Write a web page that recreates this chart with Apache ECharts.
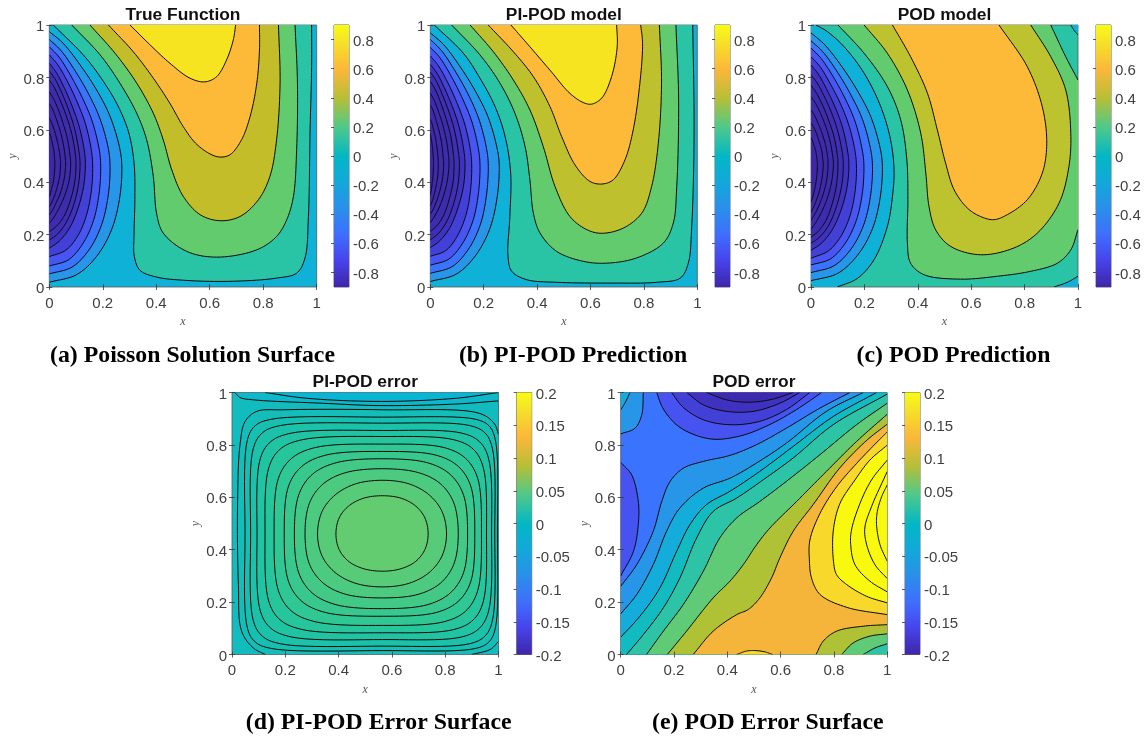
<!DOCTYPE html>
<html><head><meta charset="utf-8">
<style>html,body{margin:0;padding:0;background:#fff}#c{width:1144px;height:737px}</style>
<script src="https://cdn.jsdelivr.net/npm/echarts@6/dist/echarts.min.js"></script>
</head><body><div id="c"></div>
<script>
// ---------- tick labels ----------
const xyTicks=[0,0.2,0.4,0.6,0.8,1];
const cbTicksPred=[-0.8,-0.6,-0.4,-0.2,0,0.2,0.4,0.6,0.8];
const cbTicksErr=[-0.2,-0.15,-0.1,-0.05,0,0.05,0.1,0.15,0.2];
const titles=["True Function","PI-POD model","POD model","PI-POD error","POD error"];
const captions=["(a) Poisson Solution Surface","(b) PI-POD Prediction","(c) POD Prediction","(d) PI-POD Error Surface","(e) POD Error Surface"];

// ---------- panel (a) contour lines, read in x,y data units ----------
const aA1=[[0,.018],[.102,.047],[.177,.117],[.233,.219],[.264,.346],[.271,.47],[.262,.536],[.227,.652],[.177,.752],[.115,.848],[.052,.93],[0,.975]];
const aA2=[[0,.05],[.085,.076],[.148,.141],[.195,.236],[.221,.354],[.227,.47],[.22,.532],[.19,.641],[.148,.735],[.096,.826],[.044,.902],[0,.945]];
const aA3=[[0,.08],[.072,.104],[.125,.165],[.165,.253],[.187,.363],[.192,.47],[.186,.529],[.161,.631],[.125,.719],[.081,.805],[.037,.877],[0,.917]];
const aA4=[[0,.116],[.061,.14],[.106,.194],[.139,.274],[.158,.373],[.162,.47],[.157,.524],[.136,.62],[.106,.702],[.069,.782],[.031,.849],[0,.886]];
const aA5=[[0,.148],[.036,.174],[.074,.222],[.105,.293],[.128,.383],[.135,.47],[.131,.52],[.113,.608],[.088,.684],[.057,.758],[.026,.819],[0,.854]];
const aA6=[[0,.179],[.031,.202],[.063,.246],[.09,.31],[.109,.391],[.115,.47],[.111,.516],[.096,.598],[.075,.668],[.049,.736],[.022,.793],[0,.825]];
const aA7=[[0,.211],[.027,.232],[.055,.27],[.078,.328],[.095,.4],[.1,.47],[.097,.512],[.084,.585],[.065,.649],[.042,.71],[.019,.761],[0,.79]];
const aA8=[[0,.243],[.015,.263],[.036,.3],[.056,.345],[.074,.406],[.08,.47],[.077,.506],[.067,.569],[.052,.623],[.034,.676],[.015,.72],[0,.745]];
const aA9=[[0,.275],[.012,.293],[.027,.324],[.043,.363],[.056,.415],[.061,.47],[.059,.5],[.051,.553],[.04,.598],[.026,.642],[.012,.679],[0,.70]];
const aA10=[[0,.306],[.008,.321],[.019,.347],[.029,.38],[.039,.424],[.042,.47],[.041,.493],[.035,.533],[.027,.568],[.018,.601],[.008,.629],[0,.645]];
const aA11=[[0,.345],[.004,.356],[.009,.376],[.015,.401],[.019,.435],[.021,.47],[.02,.486],[.018,.513],[.014,.537],[.009,.56],[.004,.579],[0,.59]];
const aL1=[[.015,1],[.127,.886],[.19,.803],[.252,.701],[.296,.593],[.317,.473],[.32,.333],[.317,.206],[.318,.117],[.339,.064],[.401,.038],[.514,.025],[.688,.022],[.85,.034],[.925,.053],[.956,.11],[.969,.269],[.975,.587],[.981,.841],[.981,1]];
const aL2=[[.084,1],[.19,.886],[.264,.778],[.327,.663],[.364,.562],[.389,.422],[.401,.282],[.426,.206],[.514,.136],[.626,.114],[.776,.142],[.85,.193],[.888,.257],[.913,.346],[.925,.524],[.928,.778],[.919,1]];
const aL3=[[.152,1],[.246,.892],[.327,.778],[.389,.663],[.426,.562],[.458,.447],[.501,.346],[.564,.276],[.638,.253],[.713,.269],[.782,.333],[.825,.422],[.85,.562],[.863,.778],[.857,1]];
const aL4=[[.221,1],[.314,.898],[.389,.797],[.451,.701],[.501,.612],[.547,.549],[.601,.508],[.638,.496],[.676,.505],[.719,.562],[.751,.651],[.776,.778],[.786,.905],[.786,1]];
const aL5=[[.302,1],[.377,.924],[.451,.854],[.526,.797],[.582,.783],[.626,.803],[.663,.867],[.688,.943],[.697,1]];

// ---------- panel (b) ----------
const bA1=[[0,.021],[.097,.049],[.168,.118],[.222,.22],[.251,.347],[.258,.47],[.249,.535],[.216,.65],[.168,.749],[.109,.845],[.05,.925],[0,.97]];
const bA2=[[0,.052],[.082,.078],[.142,.143],[.187,.237],[.211,.355],[.217,.47],[.21,.532],[.182,.641],[.142,.735],[.092,.826],[.042,.902],[0,.945]];
const bA3=[[0,.083],[.07,.107],[.121,.167],[.16,.254],[.181,.364],[.186,.47],[.18,.528],[.156,.63],[.121,.718],[.079,.803],[.036,.875],[0,.915]];
const bA4=[[0,.117],[.058,.139],[.101,.194],[.133,.273],[.151,.373],[.155,.47],[.15,.524],[.13,.618],[.101,.7],[.066,.779],[.03,.845],[0,.882]];
const bA5=[[0,.15],[.035,.176],[.072,.224],[.101,.294],[.124,.384],[.13,.47],[.126,.519],[.109,.607],[.085,.682],[.055,.755],[.025,.816],[0,.85]];
const bA6=[[0,.18],[.029,.203],[.06,.247],[.085,.31],[.104,.392],[.109,.47],[.105,.516],[.091,.596],[.071,.665],[.046,.732],[.021,.789],[0,.82]];
const bA7=[[0,.212],[.024,.233],[.049,.271],[.069,.328],[.085,.4],[.089,.47],[.086,.511],[.075,.583],[.058,.646],[.038,.706],[.017,.757],[0,.785]];
const bA8=[[0,.245],[.013,.265],[.032,.301],[.049,.346],[.064,.407],[.07,.47],[.068,.505],[.059,.567],[.046,.621],[.03,.672],[.013,.716],[0,.74]];
const bA9=[[0,.278],[.01,.295],[.023,.326],[.035,.364],[.046,.416],[.05,.47],[.048,.499],[.042,.551],[.033,.596],[.021,.639],[.01,.675],[0,.695]];
const bA10=[[0,.31],[.006,.324],[.014,.35],[.021,.382],[.028,.425],[.03,.47],[.029,.492],[.025,.531],[.02,.565],[.013,.597],[.006,.625],[0,.64]];
const bA11=[[0,.35],[.002,.361],[.005,.38],[.008,.404],[.011,.436],[.012,.47],[.012,.485],[.01,.511],[.008,.534],[.005,.556],[.002,.575],[0,.585]];
const bL1=[[.015,1],[.124,.892],[.186,.797],[.242,.69],[.28,.575],[.301,.435],[.298,.27],[.291,.117],[.305,.06],[.361,.028],[.473,.018],[.685,.015],[.848,.018],[.936,.034],[.966,.09],[.979,.23],[.988,.587],[.983,1]];
const bL2=[[.08,1],[.186,.886],[.261,.778],[.317,.663],[.355,.536],[.373,.409],[.386,.282],[.411,.206],[.473,.136],[.573,.098],[.66,.091],[.773,.111],[.873,.168],[.91,.244],[.923,.383],[.93,.714],[.92,1]];
const bL3=[[.149,1],[.236,.898],[.311,.79],[.373,.676],[.423,.536],[.467,.384],[.523,.269],[.586,.219],[.642,.205],[.723,.225],[.792,.282],[.829,.384],[.854,.549],[.866,.778],[.858,1]];
const bL4=[[.217,1],[.311,.898],[.386,.803],[.448,.689],[.492,.574],[.542,.466],[.598,.403],[.642,.393],[.685,.409],[.729,.485],[.76,.6],[.785,.778],[.795,.93],[.788,1]];
const bL5=[[.302,1],[.373,.917],[.448,.828],[.523,.739],[.573,.704],[.604,.698],[.642,.721],[.679,.803],[.7,.917],[.698,1]];

// ---------- panel (c) ----------
const cC0=[[.099,0],[.174,.033],[.236,.104],[.286,.231],[.305,.345],[.311,.447],[.298,.562],[.261,.689],[.199,.816],[.124,.917],[.061,.975],[.019,1]];
const cA1=[[0,.024],[.1,.052],[.174,.121],[.23,.222],[.26,.347],[.267,.47],[.258,.535],[.224,.65],[.174,.749],[.113,.845],[.051,.925],[0,.97]];
const cA2=[[0,.055],[.086,.081],[.15,.145],[.198,.239],[.224,.356],[.23,.47],[.222,.532],[.193,.639],[.15,.732],[.098,.822],[.044,.898],[0,.94]];
const cA3=[[0,.084],[.074,.108],[.129,.168],[.17,.255],[.193,.364],[.198,.47],[.191,.528],[.166,.629],[.129,.717],[.084,.801],[.038,.872],[0,.912]];
const cA4=[[0,.11],[.064,.137],[.111,.192],[.146,.272],[.166,.372],[.17,.47],[.164,.524],[.142,.617],[.111,.698],[.072,.776],[.033,.842],[0,.879]];
const cA5=[[0,.14],[.038,.166],[.078,.216],[.111,.289],[.135,.381],[.142,.47],[.137,.519],[.119,.606],[.093,.68],[.06,.752],[.027,.813],[0,.847]];
const cA6=[[0,.167],[.033,.191],[.067,.237],[.094,.303],[.115,.388],[.121,.47],[.117,.514],[.101,.592],[.079,.66],[.051,.725],[.023,.779],[0,.81]];
const cA7=[[0,.19],[.027,.212],[.056,.254],[.079,.316],[.096,.394],[.101,.47],[.098,.509],[.085,.578],[.066,.637],[.043,.695],[.019,.743],[0,.77]];
const cA8=[[0,.22],[.016,.243],[.038,.283],[.059,.333],[.077,.4],[.084,.47],[.081,.503],[.07,.562],[.055,.613],[.036,.662],[.016,.703],[0,.726]];
const cA9=[[0,.255],[.012,.274],[.029,.309],[.045,.352],[.059,.41],[.064,.47],[.062,.497],[.054,.544],[.042,.585],[.027,.624],[.012,.657],[0,.676]];
const cA10=[[0,.287],[.009,.303],[.021,.333],[.032,.369],[.042,.419],[.046,.47],[.044,.49],[.039,.526],[.03,.557],[.02,.587],[.009,.612],[0,.626]];
const cA11=[[0,.325],[.005,.338],[.011,.361],[.017,.39],[.022,.429],[.024,.47],[.023,.483],[.02,.506],[.016,.526],[.01,.545],[.005,.561],[0,.57]];
const cT1=[[.101,1],[.199,.892],[.286,.765],[.336,.638],[.359,.485],[.363,.333],[.361,.168],[.373,.091],[.423,.047],[.56,.03],[.698,.041],[.823,.06],[.923,.091],[.973,.142],[1,.219]];
const cT2=[[1,.79],[.954,.879],[.898,1]];
const cO=[[.199,1],[.286,.892],[.361,.752],[.411,.587],[.43,.435],[.442,.307],[.467,.218],[.523,.155],[.635,.123],[.76,.149],[.848,.206],[.929,.32],[.966,.46],[.973,.587],[.954,.752],[.898,.879],[.823,1]];
const cM=[[.305,1],[.373,.879],[.436,.74],[.473,.6],[.504,.473],[.536,.371],[.586,.301],[.635,.269],[.685,.257],[.735,.276],[.81,.333],[.866,.434],[.883,.549],[.866,.689],[.81,.841],[.704,1]];
const cBR=[[.91,0],[.96,.018],[1,.041]];
const cTR=[[.973,1],[.985,.98],[1,.962]];

// ---------- panel (d) ----------
const dL1=[[.39,.46],[.402,.521],[.437,.566],[.492,.596],[.565,.606],[.636,.596],[.69,.566],[.724,.521],[.736,.46],[.724,.401],[.69,.356],[.636,.328],[.565,.318],[.492,.328],[.437,.356],[.402,.401]];
const dL2=[[.321,.46],[.338,.546],[.387,.609],[.463,.651],[.565,.665],[.665,.651],[.74,.609],[.788,.546],[.805,.46],[.788,.376],[.74,.313],[.665,.272],[.565,.258],[.463,.272],[.387,.313],[.338,.376]];
const dL3=[[.274,.46],[.291,.579],[.342,.651],[.426,.694],[.565,.709],[.7,.694],[.783,.651],[.832,.579],[.849,.46],[.832,.344],[.783,.273],[.7,.23],[.565,.216],[.426,.23],[.342,.273],[.291,.344]];
const dL4=[[.234,.46],[.251,.611],[.302,.688],[.391,.732],[.565,.747],[.733,.732],[.818,.688],[.868,.611],[.884,.46],[.868,.31],[.818,.234],[.733,.19],[.565,.175],[.391,.19],[.302,.234],[.251,.31]];
const dL5=[[.196,.46],[.212,.642],[.262,.718],[.352,.761],[.565,.775],[.765,.761],[.849,.718],[.896,.642],[.911,.46],[.896,.279],[.849,.203],[.765,.16],[.565,.146],[.352,.16],[.262,.203],[.212,.279]];
const dL6=[[.158,.46],[.174,.672],[.223,.748],[.313,.79],[.565,.803],[.795,.79],[.877,.748],[.922,.672],[.936,.46],[.922,.244],[.877,.166],[.795,.125],[.565,.111],[.313,.125],[.223,.166],[.174,.244]];
const dL7=[[.124,.46],[.138,.713],[.181,.784],[.265,.82],[.565,.832],[.831,.82],[.905,.784],[.943,.713],[.955,.46],[.943,.203],[.905,.132],[.831,.095],[.565,.083],[.265,.095],[.181,.132],[.138,.203]];
const dL8=[[.094,.46],[.106,.747],[.145,.812],[.223,.845],[.565,.855],[.862,.845],[.929,.812],[.963,.747],[.974,.46],[.963,.167],[.929,.101],[.862,.067],[.565,.057],[.223,.067],[.145,.101],[.106,.167]];
const dL9=[[.07,.46],[.08,.787],[.114,.846],[.182,.874],[.565,.883],[.891,.874],[.949,.846],[.977,.787],[.986,.46],[.977,.129],[.949,.07],[.891,.041],[.565,.032],[.182,.041],[.114,.07],[.08,.129]];
const dL10=[[.049,.46],[.058,.82],[.087,.873],[.148,.898],[.565,.906],[.913,.898],[.964,.873],[.988,.82],[.996,.46],[.988,.1],[.964,.048],[.913,.023],[.565,.015],[.148,.023],[.087,.048],[.058,.1]];
const dL11a=[[.125,0],[.08,.025],[.036,.089],[.024,.267],[.021,.585],[.03,.8],[.049,.889],[.093,.928],[.193,.934],[.565,.934],[.93,.92],[.985,.88],[1,.84]];
const dL11b=[[1,.05],[.97,.02],[.9,0]];
const dT1=[[.011,1],[.03,.981],[.08,.972],[.34,.959],[.555,.95],[.84,.956],[1,.968]];
const dT2=[[.124,1],[.28,.978],[.561,.966],[.84,.978],[1,1]];

// ---------- panel (e) ----------
const eCornerA=[[.085,1],[.079,.915],[.054,.864],[0,.842]];
const eCornerB=[[.035,1],[.016,.96],[0,.934]];
const eLobe=[[0,.733],[.041,.686],[.066,.585],[.066,.496],[.048,.394],[0,.3]];
const eTa=[[.135,1],[.16,.937],[.222,.867],[.335,.823],[.448,.834],[.56,.878],[.66,.935],[.754,1]];
const eTb=[[.191,1],[.235,.943],[.31,.896],[.41,.877],[.522,.89],[.622,.935],[.71,1]];
const eTc=[[.248,1],[.31,.953],[.397,.928],[.497,.928],[.597,.959],[.672,1]];
const eTd=[[.322,1],[.397,.972],[.472,.963],[.56,.972],[.647,1]];
const eB1=[[0,.26],[.06,.343],[.122,.47],[.154,.584],[.185,.66],[.235,.711],[.31,.737],[.41,.76],[.51,.801],[.622,.864],[.747,.94],[.86,1]];
const eB2=[[0,.155],[.06,.229],[.122,.343],[.172,.47],[.222,.559],[.31,.635],[.41,.673],[.51,.731],[.622,.807],[.772,.928],[.91,1]];
const eB3=[[0,.066],[.072,.146],[.147,.254],[.21,.394],[.26,.496],[.322,.572],[.41,.623],[.522,.699],[.647,.794],[.797,.908],[.96,1]];
const eB4=[[.022,0],[.085,.076],[.16,.178],[.222,.292],[.285,.445],[.347,.546],[.435,.597],[.535,.667],[.647,.75],[.797,.877],[1,.994]];
const eB5=[[.097,0],[.16,.089],[.235,.191],[.31,.318],[.372,.445],[.435,.521],[.522,.584],[.622,.661],[.747,.762],[.885,.877],[1,.959]];
const eB6=[[.175,0],[.247,.089],[.347,.216],[.41,.28],[.46,.343],[.51,.419],[.56,.483],[.66,.584],[.772,.699],[.885,.813],[1,.917]];
const eB7=[[.272,0],[.347,.089],[.435,.152],[.479,.172],[.522,.216],[.566,.292],[.597,.368],[.647,.47],[.722,.572],[.822,.712],[.924,.818],[1,.879]];
const eBR1=[[.733,0],[.76,.051],[.81,.089],[.91,.108],[1,.114]];
const eBR2=[[.829,0],[.872,.044],[.935,.07],[1,.079]];
const eBR3=[[.91,0],[.954,.025],[1,.041]];
const eBump=[[.435,0],[.472,.013],[.504,.015],[.541,.01],[.57,0]];
const eG1=[[1,.152],[.848,.18],[.748,.229],[.716,.292],[.708,.361],[.71,.437],[.748,.539],[.81,.64],[.885,.729],[.969,.818],[1,.849]];
const eG2=[[1,.197],[.923,.222],[.848,.267],[.81,.305],[.798,.361],[.798,.475],[.823,.577],[.879,.666],[.935,.742],[1,.799]];
const eG3=[[1,.239],[.935,.28],[.879,.343],[.863,.419],[.866,.475],[.898,.577],[.941,.666],[1,.742]];
const eG4=[[1,.29],[.954,.343],[.923,.419],[.916,.483],[.941,.564],[1,.698]];
const eG5=[[1,.356],[.973,.419],[.96,.496],[.963,.546],[.979,.602],[1,.647]];

// ---------- styles ----------
const parulaStops=[[0,'#3E26A8'],[.1,'#4743EB'],[.2,'#3F6EFD'],[.3,'#2A8FEA'],[.4,'#12A8DA'],[.5,'#03B7C4'],[.61,'#4FC98A'],[.72,'#B6BF36'],[.83,'#FCB73A'],[.94,'#F5E426'],[1,'#F9FB15']];
const LEFT=['#2796E8','#3A73FE','#4855F2','#4340D8','#4032C0','#3F2FB5','#3E2CAE','#3E2CAE','#3E2AAA','#3E2AAA','#3E28A8'];
const CY='#10B1D6',TE='#29C3A6',GR='#62CB6E',OL='#C3BD2A',OR='#FDB938',YE='#F5E41F';
const corners={tr:[[1,1]],br:[[1,0]],tl:[[0,1]],lr:[[0,1],[0,0]],up:[[1,1],[1,0],[0,0]]};

function r(color,curves,extra,closed){return {color,curves,extra:extra||[],closed:!!closed};}
function left(arr){return arr.map((a,i)=>r(LEFT[i],[a]));}
const regionsA=[r(TE,[aL1]),r(GR,[aL2]),r(OL,[aL3]),r(OR,[aL4]),r(YE,[aL5])].concat(left([aA1,aA2,aA3,aA4,aA5,aA6,aA7,aA8,aA9,aA10,aA11]));
const regionsB=[r(TE,[bL1]),r(GR,[bL2]),r('#BFC02E',[bL3]),r(OR,[bL4]),r(YE,[bL5])].concat(left([bA1,bA2,bA3,bA4,bA5,bA6,bA7,bA8,bA9,bA10,bA11]));
const regionsC=[r(GR,[cT1,cT2]),r('#BCC32F',[cO]),r(OR,[cM]),r(CY,[cC0],corners.lr),r(CY,[cBR],corners.br),r(CY,[cTR],corners.tr)].concat(left([cA1,cA2,cA3,cA4,cA5,cA6,cA7,cA8,cA9,cA10,cA11]));
const regionsD=[r('#0CB8CA',[dT1],corners.tr),r('#08B6D4',[dT2]),r('#14BDB8',[dL11a,dL11b]),
 r('#16BFB0',[dL10],0,1),r('#1BC1A9',[dL9],0,1),r('#20C3A2',[dL8],0,1),r('#27C59B',[dL7],0,1),r('#2FC794',[dL6],0,1),r('#38C88D',[dL5],0,1),r('#42C986',[dL4],0,1),r('#4CCA80',[dL3],0,1),r('#57CB78',[dL2],0,1),r('#63CC70',[dL1],0,1)];
const regionsE=[r('#2796E8',[eCornerA],corners.tl),r('#12ACDB',[eCornerB],corners.tl),r('#4653F0',[eLobe]),
 r('#4653F0',[eTa]),r('#4340D8',[eTb]),r('#4032C0',[eTc]),r('#3E2AAC',[eTd]),
 r('#2796E8',[eB1],corners.up),r('#13ACDB',[eB2],corners.up),r('#12BBBF',[eB3],corners.up),r('#2CC3A6',[eB4],corners.br),r('#5FCB77',[eB5],corners.br),r('#AFC236',[eB6],corners.br),r('#F5B53A',[eB7],corners.br),
 r('#AFC236',[eBR1],corners.br),r('#5FCB77',[eBR2],corners.br),r('#2CC3A6',[eBR3],corners.br),r('#F7D82B',[eBump]),
 r('#F7D82B',[eG1]),r('#F9F90F',[eG2]),r('#F9F90F',[eG3]),r('#F9F90F',[eG4]),r('#F9F90F',[eG5])];

// ---------- layout ----------
const panels=[
 {l:49.3,t:25,w:267.4,h:262,cb:334,bg:CY,regions:regionsA,range:[-.9,.9],ticks:cbTicksPred,cap:[192.5,356]},
 {l:430.3,t:25,w:267,h:262,cb:715,bg:CY,regions:regionsB,range:[-.9,.9],ticks:cbTicksPred,cap:[573,356]},
 {l:811,t:25,w:267,h:262,cb:1096,bg:TE,regions:regionsC,range:[-.9,.9],ticks:cbTicksPred,cap:[953.5,356]},
 {l:232,t:392.5,w:266.5,h:262,cb:516.7,bg:'#12BBBE',regions:regionsD,range:[-.2,.2],ticks:cbTicksErr,cap:[378.7,723]},
 {l:620.7,t:392.5,w:266.5,h:262,cb:905,bg:'#3A73FE',regions:regionsE,range:[-.2,.2],ticks:cbTicksErr,cap:[767.8,723]}
];
const LAB='#404040',AX='#333';
// centripetal Catmull-Rom through the read points, in screen space, for drawing the curve only
function spline(p,closed){
  const n=p.length,out=[];
  const g=i=>{
    if(closed)return p[(i+n)%n];
    if(i<0)return [2*p[0][0]-p[1][0],2*p[0][1]-p[1][1]];
    if(i>=n)return [2*p[n-1][0]-p[n-2][0],2*p[n-1][1]-p[n-2][1]];
    return p[i];
  };
  const lerp=(a,b,ta,tb,t)=>{const d=tb-ta||1e-6;return [a[0]*(tb-t)/d+b[0]*(t-ta)/d,a[1]*(tb-t)/d+b[1]*(t-ta)/d];};
  const segs=closed?n:n-1;
  for(let i=0;i<segs;i++){
    const P0=g(i-1),P1=g(i),P2=g(i+1),P3=g(i+2);
    const dt=(a,b)=>Math.max(Math.pow(Math.hypot(a[0]-b[0],a[1]-b[1]),.5),1e-3);
    const t0=0,t1=t0+dt(P0,P1),t2=t1+dt(P1,P2),t3=t2+dt(P2,P3);
    for(let k=0;k<10;k++){
      const t=t1+(t2-t1)*k/10;
      const A1=lerp(P0,P1,t0,t1,t),A2=lerp(P1,P2,t1,t2,t),A3=lerp(P2,P3,t2,t3,t);
      const B1=lerp(A1,A2,t0,t2,t),B2=lerp(A2,A3,t1,t3,t);
      out.push(lerp(B1,B2,t1,t2,t));
    }
  }
  if(!closed)out.push(p[n-1]);
  return out;
}
const opt={animation:false,backgroundColor:'#fff',title:[],grid:[],xAxis:[],yAxis:[],series:[]};
let xi=0,yi=0,gi=0;
panels.forEach((P,pi)=>{
  opt.title.push({text:titles[pi],left:P.l+P.w/2,top:P.t-19,padding:0,textAlign:'center',textStyle:{fontFamily:'Liberation Sans',fontWeight:'bold',fontSize:17.4,color:'#111',lineHeight:18}});
  opt.title.push({text:captions[pi],left:P.cap[0],top:P.cap[1]-12,padding:0,textAlign:'center',textStyle:{fontFamily:'Liberation Serif',fontWeight:'bold',fontSize:23.8,color:'#000',lineHeight:24}});
  opt.grid.push({left:P.l,top:P.t,width:P.w,height:P.h,show:true,backgroundColor:P.bg,borderColor:'#555',borderWidth:0.8,z:0});
  const g=gi++,xb=xi++,xt=xi++,yl=yi++,yr=yi++;
  const common={min:0,max:1,interval:.2,gridIndex:g,splitLine:{show:false},axisLine:{show:false},axisTick:{inside:true,length:3,lineStyle:{color:AX,width:.8}},z:6};
  const lab={fontFamily:'Liberation Sans',fontSize:15,color:LAB,formatter:v=>String(v)};
  opt.xAxis.push(Object.assign({},common,{type:'value',position:'bottom',axisLabel:Object.assign({},lab,{margin:9,customValues:xyTicks}),name:'x',nameLocation:'middle',nameGap:29,nameTextStyle:{fontFamily:'Liberation Serif',fontStyle:'italic',fontSize:12,color:'#555'}}));
  opt.xAxis.push(Object.assign({},common,{type:'value',position:'top',axisLabel:{show:false}}));
  opt.yAxis.push(Object.assign({},common,{type:'value',position:'left',axisLabel:Object.assign({},lab,{margin:5,verticalAlign:'top',lineHeight:4,customValues:xyTicks}),name:'y',nameLocation:'middle',nameGap:30,nameTextStyle:{fontFamily:'Liberation Serif',fontStyle:'italic',fontSize:12,color:'#555'}}));
  opt.yAxis.push(Object.assign({},common,{type:'value',position:'right',axisLabel:{show:false}}));
  P.regions.forEach((R,ri)=>{
    const flat=[];R.curves.forEach(c=>c.forEach(q=>flat.push(q)));
    opt.series.push({type:'custom',coordinateSystem:'cartesian2d',xAxisIndex:xb,yAxisIndex:yl,z:2+ri*0.001,silent:true,data:flat,
      renderItem:(params,api)=>{
        if(params.dataIndex!==0)return null;
        const cs=params.coordSys;
        const lines=R.curves.map(c=>spline(c.map(q=>api.coord(q)),R.closed));
        let poly=[];lines.forEach(l=>{poly=poly.concat(l);});
        R.extra.forEach(q=>poly.push(api.coord(q)));
        const kids=[{type:'polygon',shape:{points:poly},style:{fill:R.color,stroke:null}}];
        lines.forEach(l=>kids.push({type:R.closed?'polygon':'polyline',shape:{points:l},style:{fill:null,stroke:'#0a0a0a',lineWidth:1}}));
        return {type:'group',children:kids,clipPath:{type:'rect',shape:{x:cs.x,y:cs.y,width:cs.width,height:cs.height}}};
      }});
  });
  // colour bar
  const gb=gi++,xc=xi++,yc=yi++;
  opt.grid.push({left:P.cb,top:P.t,width:15,height:P.h,show:true,borderColor:'#444',borderWidth:.8,backgroundColor:'transparent'});
  opt.xAxis.push({type:'value',gridIndex:gb,min:0,max:1,show:false});
  opt.yAxis.push({type:'value',gridIndex:gb,min:P.range[0],max:P.range[1],position:'right',splitLine:{show:false},axisLine:{show:false},
    axisTick:{inside:true,length:3,customValues:P.ticks,lineStyle:{color:AX,width:.8}},
    axisLabel:{customValues:P.ticks,margin:4,verticalAlign:'top',lineHeight:4,fontFamily:'Liberation Sans',fontSize:15,color:LAB,formatter:v=>String(v)},z:6});
  opt.series.push({type:'custom',coordinateSystem:'cartesian2d',xAxisIndex:xc,yAxisIndex:yc,silent:true,z:2,data:[[0,P.range[0],1,P.range[1]]],
    renderItem:(params,api)=>{
      const a=api.coord([0,api.value(3)]),b=api.coord([1,api.value(1)]);
      return {type:'rect',shape:{x:a[0],y:a[1],width:b[0]-a[0],height:b[1]-a[1]},
        style:{fill:new echarts.graphic.LinearGradient(0,1,0,0,parulaStops.map(s=>({offset:s[0],color:s[1]})))}};
    }});
});
const chart=echarts.init(document.getElementById('c'),null,{renderer:'canvas',width:1144,height:737});
chart.setOption(opt);
</script></body></html>
